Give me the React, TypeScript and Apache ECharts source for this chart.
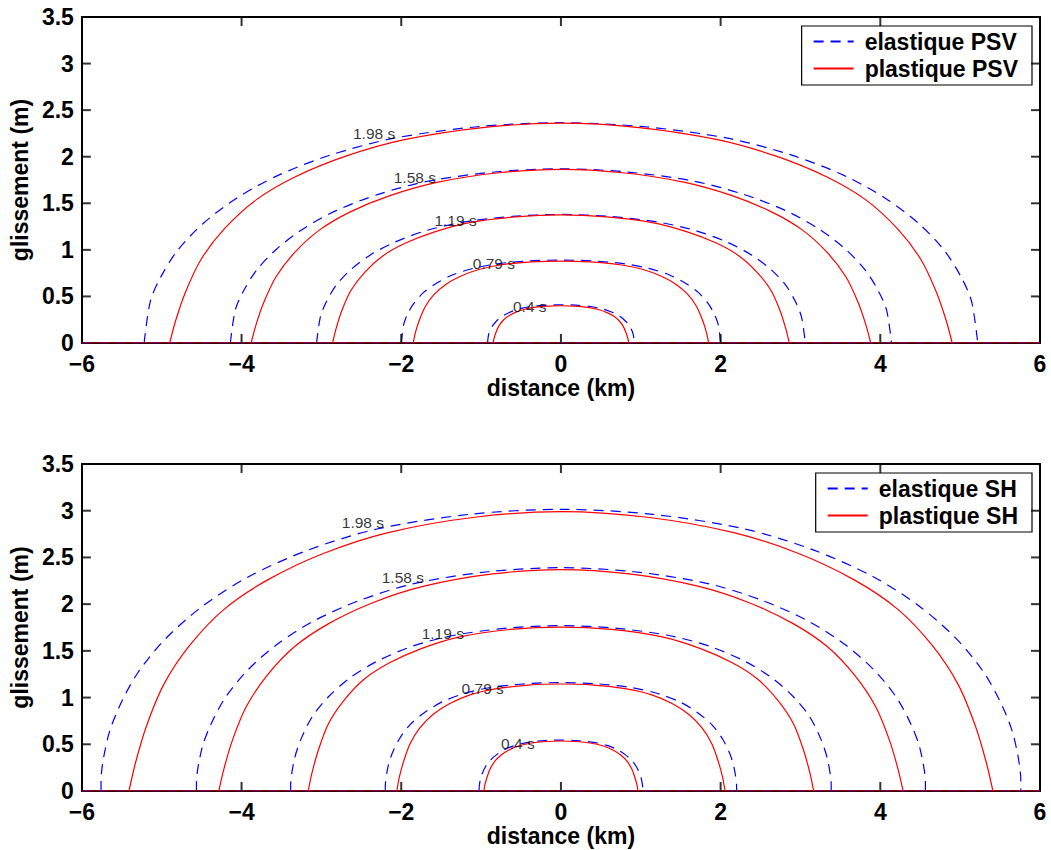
import React, { useEffect, useRef } from 'react';
import * as echarts from 'echarts';

// Axis ranges / ticks
const xMin = -6;
const xMax = 6;
const xStep = 2;
const yMin = 0;
const yMax = 3.5;
const yStep = 0.5;

const timeLabels = ['1.98 s', '1.58 s', '1.19 s', '0.79 s', '0.4 s'];

// Half-profiles (from the rupture tip to x = 0), curves are symmetric about x = 0.
// Order of curves: 1.98 s, 1.58 s, 1.19 s, 0.79 s, 0.4 s
const psvElasticX = [
  [5.22, 5.142, 5.011, 4.802, 4.489, 4.072, 3.55, 2.871, 2.088, 1.044, 0],
  [4.14, 4.078, 3.974, 3.809, 3.56, 3.229, 2.815, 2.277, 1.656, 0.828, 0],
  [3.06, 3.014, 2.938, 2.815, 2.632, 2.387, 2.081, 1.683, 1.224, 0.612, 0],
  [2.0, 1.97, 1.92, 1.84, 1.72, 1.56, 1.36, 1.1, 0.8, 0.4, 0],
  [0.92, 0.906, 0.883, 0.846, 0.791, 0.718, 0.626, 0.506, 0.368, 0.184, 0],
];
const psvElasticY = [
  [0, 0.449, 0.71, 0.993, 1.277, 1.549, 1.797, 2.022, 2.199, 2.322, 2.365],
  [0, 0.355, 0.561, 0.785, 1.01, 1.225, 1.421, 1.599, 1.739, 1.836, 1.87],
  [0, 0.276, 0.442, 0.621, 0.787, 0.945, 1.083, 1.208, 1.297, 1.359, 1.38],
  [0, 0.196, 0.312, 0.427, 0.543, 0.641, 0.73, 0.801, 0.85, 0.881, 0.89],
  [0, 0.09, 0.144, 0.197, 0.25, 0.295, 0.336, 0.369, 0.392, 0.406, 0.41],
];
const psvPlasticX = [
  [4.9, 4.827, 4.704, 4.508, 4.214, 3.822, 3.332, 2.695, 1.96, 0.98, 0],
  [3.88, 3.822, 3.725, 3.57, 3.337, 3.026, 2.638, 2.134, 1.552, 0.776, 0],
  [2.86, 2.817, 2.746, 2.631, 2.46, 2.231, 1.945, 1.573, 1.144, 0.572, 0],
  [1.85, 1.822, 1.776, 1.702, 1.591, 1.443, 1.258, 1.018, 0.74, 0.37, 0],
  [0.85, 0.837, 0.816, 0.782, 0.731, 0.663, 0.578, 0.468, 0.34, 0.17, 0],
];
const psvPlasticY = [
  [0, 0.236, 0.543, 0.897, 1.227, 1.534, 1.782, 2.006, 2.183, 2.313, 2.36],
  [0, 0.187, 0.429, 0.709, 0.97, 1.212, 1.408, 1.585, 1.725, 1.828, 1.865],
  [0, 0.151, 0.344, 0.564, 0.756, 0.935, 1.073, 1.196, 1.293, 1.354, 1.375],
  [0, 0.114, 0.238, 0.387, 0.519, 0.629, 0.717, 0.792, 0.84, 0.871, 0.88],
  [0, 0.052, 0.108, 0.176, 0.236, 0.286, 0.326, 0.36, 0.382, 0.396, 0.4],
];
const shElasticX = [
  [5.76, 5.674, 5.53, 5.299, 4.954, 4.493, 3.917, 3.168, 2.304, 1.152, 0],
  [4.565, 4.497, 4.382, 4.2, 3.926, 3.561, 3.104, 2.511, 1.826, 0.913, 0],
  [3.385, 3.334, 3.25, 3.114, 2.911, 2.64, 2.302, 1.862, 1.354, 0.677, 0],
  [2.2, 2.167, 2.112, 2.024, 1.892, 1.716, 1.496, 1.21, 0.88, 0.44, 0],
  [1.025, 1.01, 0.984, 0.943, 0.882, 0.8, 0.697, 0.564, 0.41, 0.205, 0],
];
const shElasticY = [
  [0.1, 0.573, 0.905, 1.266, 1.628, 1.975, 2.291, 2.578, 2.804, 2.961, 3.015],
  [0.08, 0.454, 0.717, 1.004, 1.291, 1.565, 1.816, 2.043, 2.223, 2.347, 2.39],
  [0.06, 0.354, 0.566, 0.797, 1.009, 1.212, 1.389, 1.549, 1.664, 1.743, 1.77],
  [0.04, 0.255, 0.406, 0.557, 0.708, 0.835, 0.951, 1.044, 1.108, 1.148, 1.16],
  [0.02, 0.12, 0.191, 0.262, 0.332, 0.392, 0.447, 0.491, 0.52, 0.54, 0.545],
];
const shPlasticX = [
  [5.41, 5.329, 5.194, 4.977, 4.653, 4.22, 3.679, 2.976, 2.164, 1.082, 0],
  [4.285, 4.221, 4.114, 3.942, 3.685, 3.342, 2.914, 2.357, 1.714, 0.857, 0],
  [3.165, 3.118, 3.038, 2.912, 2.722, 2.469, 2.152, 1.741, 1.266, 0.633, 0],
  [2.055, 2.024, 1.973, 1.891, 1.767, 1.603, 1.397, 1.13, 0.822, 0.411, 0],
  [0.965, 0.951, 0.926, 0.888, 0.83, 0.753, 0.656, 0.531, 0.386, 0.193, 0],
];
const shPlasticY = [
  [0, 0.3, 0.688, 1.136, 1.555, 1.944, 2.257, 2.542, 2.766, 2.93, 2.99],
  [0, 0.237, 0.545, 0.901, 1.232, 1.541, 1.789, 2.015, 2.192, 2.323, 2.37],
  [0, 0.193, 0.439, 0.72, 0.965, 1.193, 1.369, 1.527, 1.65, 1.729, 1.755],
  [0, 0.149, 0.309, 0.504, 0.675, 0.819, 0.933, 1.031, 1.093, 1.134, 1.145],
  [0, 0.07, 0.145, 0.235, 0.316, 0.383, 0.436, 0.482, 0.511, 0.53, 0.535],
];

// Time-label anchors (data coordinates)
const psvLabelX = [-2.34, -1.83, -1.32, -0.84, -0.39];
const psvLabelY = [2.25, 1.78, 1.31, 0.855, 0.39];
const shLabelX = [-2.48, -1.98, -1.48, -0.98, -0.54];
const shLabelY = [2.87, 2.28, 1.69, 1.1, 0.51];

const FONT = '"Liberation Sans", Arial, Helvetica, sans-serif';
const BLUE = '#0000ff';
const RED = '#ff0000';
const TICK_LEN = 9;
const TICK_W = 2;

// Arc only (tip to tip); the zero-slip baseline is drawn by its own series.
function buildArc(hx: number[], hy: number[]): number[][] {
  const pts: number[][] = [];
  if (hy[0] !== 0) pts.push([-hx[0], 0]);
  for (let i = 0; i < hx.length; i++) pts.push([hx[i] === 0 ? 0 : -hx[i], hy[i]]);
  for (let i = hx.length - 2; i >= 0; i--) pts.push([hx[i], hy[i]]);
  if (hy[0] !== 0) pts.push([hx[0], 0]);
  return pts;
}

// inner tick values (box corners excluded)
const xTickVals: number[] = [];
for (let k = 1; k < Math.round((xMax - xMin) / xStep); k++) xTickVals.push(xMin + k * xStep);
const yTickVals: number[] = [];
for (let k = 1; k < Math.round((yMax - yMin) / yStep); k++) yTickVals.push(yMin + k * yStep);

const fmtX = (v: number) => (v < 0 ? '\u2212' + String(Math.abs(v)) : String(v));

function makeAxes(gridIndex: number) {
  const label = { fontSize: 23, fontWeight: 'bold' as const, color: '#000', fontFamily: FONT };
  const line = { show: true, onZero: false, lineStyle: { color: '#000', width: 2 } };
  const tick = { show: false };
  const x = [
    {
      type: 'value', gridIndex, position: 'bottom', min: xMin, max: xMax, interval: xStep,
      name: 'distance (km)', nameLocation: 'middle', nameGap: 32,
      nameTextStyle: { ...label },
      axisLine: { ...line }, axisTick: { ...tick }, splitLine: { show: false },
      axisLabel: { ...label, margin: 11, lineHeight: 20, formatter: fmtX },
    },
    {
      type: 'value', gridIndex, position: 'top', min: xMin, max: xMax, interval: xStep,
      axisLine: { ...line }, axisTick: { ...tick }, splitLine: { show: false }, axisLabel: { show: false },
    },
  ];
  const y = [
    {
      type: 'value', gridIndex, position: 'left', min: yMin, max: yMax, interval: yStep,
      name: 'glissement (m)', nameLocation: 'middle', nameGap: 37,
      nameTextStyle: { ...label },
      axisLine: { ...line }, axisTick: { ...tick }, splitLine: { show: false },
      axisLabel: { ...label, margin: 8, lineHeight: 20 },
    },
    {
      type: 'value', gridIndex, position: 'right', min: yMin, max: yMax, interval: yStep,
      axisLine: { ...line }, axisTick: { ...tick }, splitLine: { show: false }, axisLabel: { show: false },
    },
  ];
  return { x, y };
}

// Inward tick marks drawn as thin rect symbols sitting on the box edges
function tickSeries(axisIdx: number) {
  const base = {
    type: 'scatter', xAxisIndex: axisIdx, yAxisIndex: axisIdx, symbol: 'rect',
    itemStyle: { color: '#000' }, silent: true, clip: false, z: 10,
  };
  return [
    { ...base, data: xTickVals.map((v) => [v, yMin]), symbolSize: [TICK_W, TICK_LEN], symbolOffset: [0, -TICK_LEN / 2] },
    { ...base, data: xTickVals.map((v) => [v, yMax]), symbolSize: [TICK_W, TICK_LEN], symbolOffset: [0, TICK_LEN / 2] },
    { ...base, data: yTickVals.map((v) => [xMin, v]), symbolSize: [TICK_LEN, TICK_W], symbolOffset: [TICK_LEN / 2, 0] },
    { ...base, data: yTickVals.map((v) => [xMax, v]), symbolSize: [TICK_LEN, TICK_W], symbolOffset: [-TICK_LEN / 2, 0] },
  ];
}

function panelSeries(
  axisIdx: number,
  elasticName: string,
  plasticName: string,
  ex: number[][], ey: number[][], px: number[][], py: number[][],
  lx: number[], ly: number[],
) {
  const out: any[] = [];
  const common = {
    type: 'line', xAxisIndex: axisIdx, yAxisIndex: axisIdx, showSymbol: false, symbol: 'none',
    silent: true,
  };
  const eStyle = { color: BLUE, width: 1.2, type: [10, 7] };
  const pStyle = { color: RED, width: 1.2, type: 'solid' };
  out.push({ ...common, name: elasticName, data: [[xMin, 0], [xMax, 0]], lineStyle: eStyle, itemStyle: { color: BLUE }, z: 2 });
  for (let i = 0; i < ex.length; i++) {
    out.push({
      ...common, name: elasticName, data: buildArc(ex[i], ey[i]), smooth: 0.3,
      lineStyle: eStyle, itemStyle: { color: BLUE }, z: 2,
    });
  }
  out.push({ ...common, name: plasticName, data: [[xMin, 0], [xMax, 0]], lineStyle: pStyle, itemStyle: { color: RED }, z: 3 });
  for (let i = 0; i < px.length; i++) {
    out.push({
      ...common, name: plasticName, data: buildArc(px[i], py[i]), smooth: 0.3,
      lineStyle: pStyle, itemStyle: { color: RED }, z: 3,
    });
  }
  out.push({
    type: 'scatter', xAxisIndex: axisIdx, yAxisIndex: axisIdx,
    data: timeLabels.map((t, i) => [lx[i], ly[i], t]),
    symbolSize: 1, itemStyle: { color: 'rgba(0,0,0,0)' }, silent: true, z: 5,
    label: {
      show: true, position: 'inside', formatter: (p: any) => p.data[2],
      fontSize: 15.5, color: '#000', fontFamily: FONT, textBorderWidth: 0,
    },
  });
  out.push(...tickSeries(axisIdx));
  return out;
}

function legendFor(names: string[], top: number) {
  return {
    data: names, orient: 'vertical', right: 19, top,
    padding: [4, 14, 5, 11], itemGap: 4, itemWidth: 40, itemHeight: 18,
    backgroundColor: '#fff', borderColor: '#000', borderWidth: 1.2, borderRadius: 0,
    selectedMode: false,
    itemStyle: { opacity: 0 },
    textStyle: { fontSize: 23, fontWeight: 'bold', color: '#000', fontFamily: FONT, padding: [0, 0, 0, 6] },
  };
}

export default function App() {
  const ref = useRef<HTMLDivElement>(null);
  useEffect(() => {
    if (!ref.current) return;
    const chart = echarts.init(ref.current, undefined, { renderer: 'svg' });
    const a0 = makeAxes(0);
    const a1 = makeAxes(1);
    chart.setOption({
      animation: false,
      backgroundColor: '#fff',
      textStyle: { fontFamily: FONT },
      grid: [
        { left: 74, top: 17, width: 966, height: 326, show: false },
        { left: 74, top: 464, width: 966, height: 327, show: false },
      ],
      xAxis: [...a0.x, ...a1.x],
      yAxis: [...a0.y, ...a1.y],
      legend: [
        legendFor(['elastique PSV', 'plastique PSV'], 26),
        legendFor(['elastique SH', 'plastique SH'], 473),
      ],
      series: [
        ...panelSeries(0, 'elastique PSV', 'plastique PSV', psvElasticX, psvElasticY, psvPlasticX, psvPlasticY, psvLabelX, psvLabelY),
        ...panelSeries(2, 'elastique SH', 'plastique SH', shElasticX, shElasticY, shPlasticX, shPlasticY, shLabelX, shLabelY),
      ],
    });
    return () => chart.dispose();
  }, []);
  return (
    <div
      ref={ref}
      style={{ position: 'fixed', left: 0, top: 0, width: 1051, height: 850, background: '#fff' }}
    />
  );
}
